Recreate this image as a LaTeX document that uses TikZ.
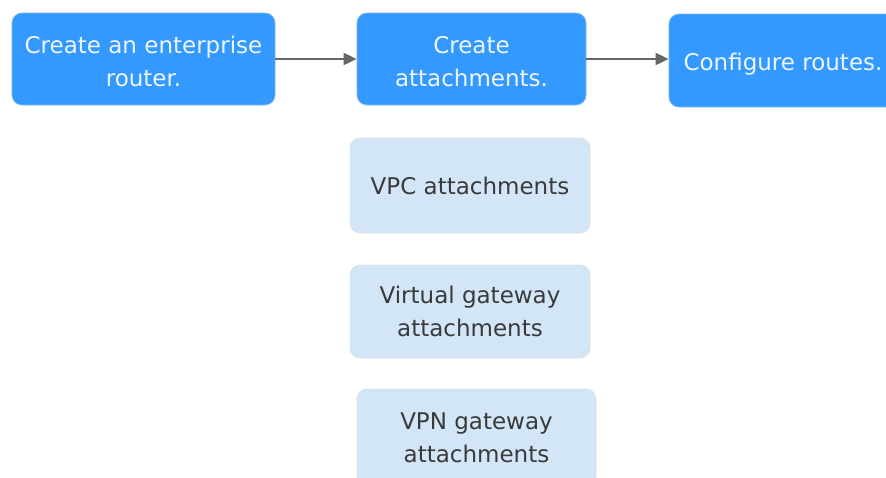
\documentclass[tikz,border=0pt]{standalone}
\usepackage{fontspec}
\setmainfont{DejaVu Sans}
\usetikzlibrary{arrows.meta}
\definecolor{stepblue}{HTML}{3399FF}
\definecolor{stepedge}{HTML}{7DB8F0}
\definecolor{subfill}{HTML}{D2E6F8}
\definecolor{subedge}{HTML}{DCE3EA}
\definecolor{subtext}{HTML}{3A3A3A}
\definecolor{steptext}{HTML}{EEF5FF}
\definecolor{arrowgray}{HTML}{666666}
\tikzset{
  stepbox/.style={draw=stepedge, line width=0.8pt, fill=stepblue, rounded corners=10pt,
    inner sep=0pt},
  steplabel/.style={text=steptext, align=center, inner sep=0pt,
    font=\fontsize{23}{33}\selectfont},
  subbox/.style={draw=subedge, line width=0.8pt, fill=subfill, rounded corners=10pt,
    text=subtext, align=center, inner sep=0pt,
    font=\fontsize{23}{33}\selectfont},
  flow/.style={draw=arrowgray, line width=2pt, -{Triangle[length=13pt,width=12pt]}}
}
\begin{document}
\begin{tikzpicture}[x=1pt,y=-1pt]
\useasboundingbox (0,0) rectangle (886,477);
\clip (0,0) rectangle (886,477);
\node[stepbox, minimum width=263pt, minimum height=92pt] (b1) at (143.5,59) {};
\node[steplabel] (b1t) at ([yshift=-2.5pt]b1.center) {Create an enterprise\\router.};
\node[stepbox, minimum width=229pt, minimum height=92pt] (b2) at (471.5,59) {};
\node[steplabel] (b2t) at ([yshift=-2.5pt]b2.center) {Create\\attachments.};
\node[stepbox, minimum width=228pt, minimum height=93pt] (b3) at (783,60.5) {};
\node[steplabel] (b3t) at ([yshift=-4pt]b3.center) {Configure routes.};
\node[subbox, minimum width=240pt, minimum height=95pt] (s1) at (470,185.5) {VPC attachments};
\node[subbox, minimum width=240pt, minimum height=93pt] (s2) at (470,311.5) {Virtual gateway\\attachments};
\node[subbox, minimum width=239pt, minimum height=98pt] (s3) at (476.5,438) {VPN gateway\\attachments};
\draw[flow] (b1.east) -- (b2.west);
\draw[flow] (b2.east) -- (b2.east -| b3.west);
\end{tikzpicture}
\end{document}
